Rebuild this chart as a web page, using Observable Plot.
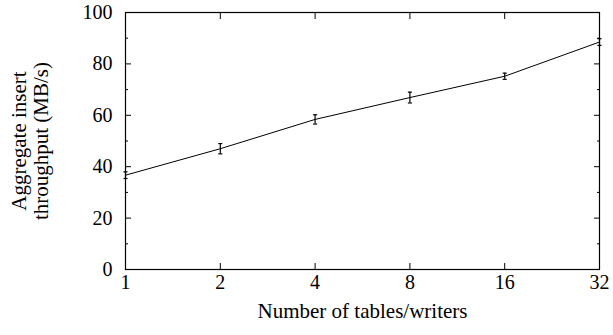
<!DOCTYPE html>
<html>
<head>
<meta charset="utf-8">
<script src="https://cdn.jsdelivr.net/npm/d3@7"></script>
<script src="https://cdn.jsdelivr.net/npm/@observablehq/plot@0.6"></script>
<style>
  html, body { margin: 0; padding: 0; background: #fff; }
  svg { display: block; }
</style>
</head>
<body>
<div id="chart"></div>
<script>
const writers = [1, 2, 4, 8, 16, 32];
const throughput = [36.7, 47.0, 58.4, 66.9, 75.2, 88.5];
const errors = [1.3, 2.0, 1.8, 2.1, 1.2, 1.3];
const xTicks = [1, 2, 4, 8, 16, 32];
const yTicks = [0, 20, 40, 60, 80, 100];
const yMinorTicks = [10, 30, 50, 70, 90];
const xLabel = "Number of tables/writers";
const yLabel = "Aggregate insert\nthroughput (MB/s)";

const data = writers.map((x, i) => ({x, y: throughput[i], lo: throughput[i] - errors[i], hi: throughput[i] + errors[i]}));

const cap = {
  draw(context, size) {
    const r = Math.sqrt(size) / 2;
    context.moveTo(-r, 0);
    context.lineTo(r, 0);
  }
};

const font = "'Liberation Serif', 'Times New Roman', serif";

const chart = Plot.plot({
  width: 613,
  height: 335,
  marginLeft: 125,
  marginRight: 14,
  marginTop: 12,
  marginBottom: 66,
  style: {fontFamily: font, fontSize: "20px", color: "black", background: "white"},
  x: {type: "log", base: 2, domain: [1, 32]},
  y: {domain: [0, 100]},
  marks: [
    Plot.frame({stroke: "black", strokeWidth: 1.2}),
    // tick labels
    Plot.axisX(xTicks, {anchor: "bottom", tickSize: 0, tickPadding: 5, tickFormat: d => String(d), label: null}),
    Plot.axisY(yTicks, {anchor: "left", tickSize: 0, tickPadding: 13, label: null}),
    // inward ticks
    Plot.axisX(xTicks, {anchor: "bottom", tickSize: -6, tickFormat: () => "", label: null}),
    Plot.axisX(xTicks, {anchor: "top", tickSize: -6, tickFormat: () => "", label: null}),
    Plot.axisY(yTicks, {anchor: "left", tickSize: -6, tickFormat: () => "", label: null}),
    Plot.axisY(yTicks, {anchor: "right", tickSize: -6, tickFormat: () => "", label: null}),
    Plot.axisY(yMinorTicks, {anchor: "left", tickSize: -3, tickFormat: () => "", label: null}),
    Plot.axisY(yMinorTicks, {anchor: "right", tickSize: -3, tickFormat: () => "", label: null}),
    // data
    Plot.line(data, {x: "x", y: "y", stroke: "black", strokeWidth: 1}),
    Plot.ruleX(data, {x: "x", y1: "lo", y2: "hi", stroke: "black", strokeWidth: 1.2}),
    Plot.dot(data, {x: "x", y: "lo", symbol: cap, r: 2.3, stroke: "black", strokeWidth: 1.2, fill: "none"}),
    Plot.dot(data, {x: "x", y: "hi", symbol: cap, r: 2.3, stroke: "black", strokeWidth: 1.2, fill: "none"}),
    // axis titles
    Plot.text([xLabel], {frameAnchor: "bottom", text: d => d, lineAnchor: "middle", dy: 42, fontSize: 21, fill: "black"}),
    Plot.text([yLabel], {frameAnchor: "left", text: d => d, textAnchor: "middle", lineAnchor: "middle", rotate: -90, dx: -96, fontSize: 21, fill: "black", lineHeight: 1.05})
  ]
});

document.getElementById("chart").appendChild(chart);
</script>
</body>
</html>
